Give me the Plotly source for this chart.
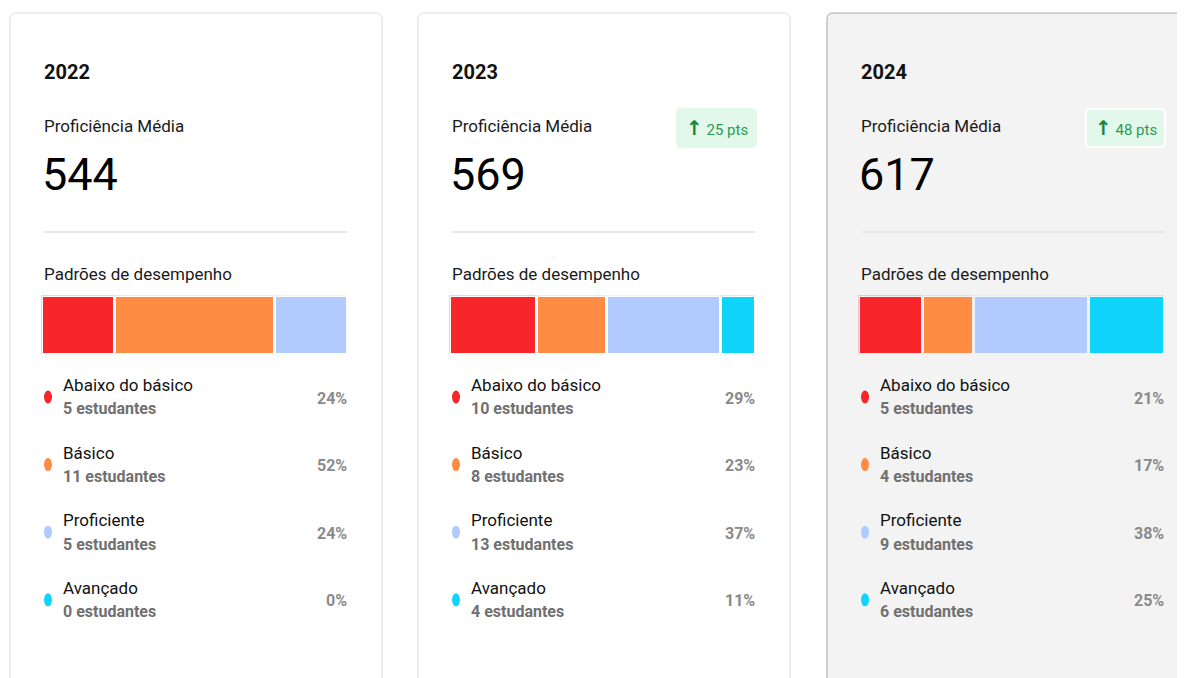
import plotly.graph_objects as go

# ─────────────────────────── data ───────────────────────────
YEARS = ["2022", "2023", "2024"]
MEAN_SCORE = [544, 569, 617]
DELTA_PTS = [None, 25, 48]
LEVELS = ["Abaixo do básico", "Básico", "Proficiente", "Avançado"]
STUDENTS_2022 = [5, 11, 5, 0]
STUDENTS_2023 = [10, 8, 13, 4]
STUDENTS_2024 = [5, 4, 9, 6]
PCT_2022 = [24, 52, 24, 0]
PCT_2023 = [29, 23, 37, 11]
PCT_2024 = [21, 17, 38, 25]

STUDENTS = [STUDENTS_2022, STUDENTS_2023, STUDENTS_2024]
PCTS = [PCT_2022, PCT_2023, PCT_2024]

# ─────────────────────────── style ───────────────────────────
W, H = 1185, 678
OFF = 8  # page body margin
FONT = "Roboto, 'Noto Sans', sans-serif"
LEVEL_COLORS = ["#f8262b", "#ff8c42", "#b2cbff", "#0fd5fd"]
CARD_X = [10, 418, 827]
CARD_BG = ["#ffffff", "#ffffff", "#f3f3f3"]
CARD_BORDER = ["#dedede", "#dedede", "#a8a8a8"]


def px(x):
    return (x - OFF) / W


def py(y):
    return 1 - (y - OFF) / H


def rounded_rect(x0, y0, x1, y1, r):
    """Rounded rect path in paper coords from pixel box."""
    rx, ry = r / W, r / H
    a, b, c, d = px(x0), py(y0), px(x1), py(y1)
    return (
        f"M {a + rx},{b} L {c - rx},{b} Q {c},{b} {c},{b - ry} "
        f"L {c},{d + ry} Q {c},{d} {c - rx},{d} "
        f"L {a + rx},{d} Q {a},{d} {a},{d + ry} "
        f"L {a},{b - ry} Q {a},{b} {a + rx},{b} Z"
    )


fig = go.Figure()
shapes, annotations = [], []
layout_axes = {}

for i, year in enumerate(YEARS):
    cx = CARD_X[i]
    bg = CARD_BG[i]

    # card
    shapes.append(dict(
        type="path", xref="paper", yref="paper",
        path=rounded_rect(cx, 13, cx + 372, H + 30, 6),
        fillcolor=bg, line=dict(color=CARD_BORDER[i], width=1), layer="below",
    ))

    annotations.append(dict(
        x=px(cx + 32), y=py(72), text=f"<b>{year}</b>",
        font=dict(size=20, color="#111"),
    ))
    annotations.append(dict(
        x=px(cx + 32), y=py(126), text="Proficiência Média",
        font=dict(size=17, color="#1a1a1a"),
    ))
    annotations.append(dict(
        x=px(cx + 30), y=py(174), text=str(MEAN_SCORE[i]),
        font=dict(size=45, color="#000"),
    ))

    if DELTA_PTS[i] is not None:
        bx0, bx1 = cx + 259, cx + 338
        shapes.append(dict(
            type="path", xref="paper", yref="paper",
            path=rounded_rect(bx0, 109, bx1, 147, 4),
            fillcolor="#e2f8ea",
            line=dict(color="#ffffff" if i == 2 else "#e2f8ea", width=2),
        ))
        annotations.append(dict(
            x=px((bx0 + bx1) / 2), y=py(128), xanchor="center",
            text=(f"<span style='font-size:20px;font-family:DejaVu Sans;color:#17883a'><b>↑</b></span>"
                  f" {DELTA_PTS[i]} pts"),
            font=dict(size=15, color="#2a9d55"),
        ))

    # divider
    shapes.append(dict(
        type="line", xref="paper", yref="paper",
        x0=px(cx + 34), x1=px(cx + 337), y0=py(232), y1=py(232),
        line=dict(color="#e2e2e2", width=1.5),
    ))

    annotations.append(dict(
        x=px(cx + 32), y=py(274), text="Padrões de desempenho",
        font=dict(size=17, color="#1a1a1a"),
    ))

    # stacked bar
    sfx = "" if i == 0 else str(i + 1)
    total = sum(STUDENTS[i])
    for lvl, n, col in zip(LEVELS, STUDENTS[i], LEVEL_COLORS):
        fig.add_trace(go.Bar(
            x=[n], y=[""], orientation="h", name=lvl,
            xaxis=f"x{sfx}", yaxis=f"y{sfx}",
            marker=dict(color=col, line=dict(color=bg, width=3)),
            showlegend=False, hoverinfo="skip",
        ))
    layout_axes[f"xaxis{sfx}"] = dict(
        domain=[px(cx + 31.5), px(cx + 337.5)], range=[0, total],
        visible=False, fixedrange=True, anchor=f"y{sfx}",
    )
    layout_axes[f"yaxis{sfx}"] = dict(
        domain=[py(354.5), py(295.5)], visible=False,
        fixedrange=True, anchor=f"x{sfx}",
    )

    # level list
    for k, (lvl, n, pct, col) in enumerate(zip(LEVELS, STUDENTS[i], PCTS[i], LEVEL_COLORS)):
        y0 = 385 + k * 67.6
        shapes.append(dict(
            type="circle", xref="paper", yref="paper",
            x0=px(cx + 34), x1=px(cx + 42), y0=py(y0 + 5.5), y1=py(y0 + 18.5),
            fillcolor=col, line=dict(width=0),
        ))
        annotations.append(dict(
            x=px(cx + 51), y=py(y0), text=lvl,
            font=dict(size=17, color="#111"),
        ))
        annotations.append(dict(
            x=px(cx + 51), y=py(y0 + 24), text=f"<b>{n} estudantes</b>",
            font=dict(size=16, color="#707070"),
        ))
        annotations.append(dict(
            x=px(cx + 339), y=py(y0 + 13), xanchor="right", text=f"<b>{pct}%</b>",
            font=dict(size=16, color="#8a8a8a"),
        ))

for a in annotations:
    a.setdefault("xanchor", "left")
    a.update(xref="paper", yref="paper", yanchor="middle", showarrow=False)

fig.update_layout(
    width=W, height=H,
    margin=dict(l=0, r=0, t=0, b=0),
    paper_bgcolor="#ffffff", plot_bgcolor="rgba(0,0,0,0)",
    barmode="stack", bargap=0,
    font=dict(family=FONT),
    shapes=shapes, annotations=annotations,
    showlegend=False,
    **layout_axes,
)

fig.write_html("out.html", config={"displayModeBar": False})
